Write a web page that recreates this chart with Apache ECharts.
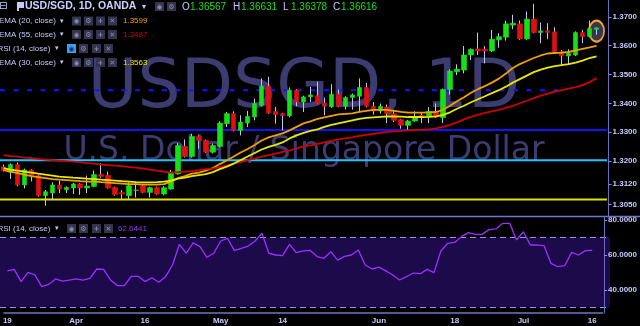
<!DOCTYPE html>
<html><head><meta charset="utf-8">
<script src="https://cdn.jsdelivr.net/npm/echarts@6/dist/echarts.min.js"></script>
<style>html,body{margin:0;padding:0;background:#000;overflow:hidden}#c{width:640px;height:326px}</style>
</head><body><div id="c"></div>
<script>
// ---- categories (trading days, plus one empty slot at the right) ----
const dates = ['03-19','03-20','03-21','03-22','03-23','03-26','03-27','03-28','03-29','03-30',
'04-02','04-03','04-04','04-05','04-06','04-09','04-10','04-11','04-12','04-13','04-16','04-17','04-18','04-19','04-20','04-23','04-24','04-25','04-26','04-27','04-30',
'05-01','05-02','05-03','05-04','05-07','05-08','05-09','05-10','05-11','05-14','05-15','05-16','05-17','05-18','05-21','05-22','05-23','05-24','05-25','05-28','05-29','05-30','05-31',
'06-01','06-04','06-05','06-06','06-07','06-08','06-11','06-12','06-13','06-14','06-15','06-18','06-19','06-20','06-21','06-22','06-25','06-26','06-27','06-28','06-29',
'07-02','07-03','07-04','07-05','07-06','07-09','07-10','07-11','07-12','07-13','07-16','07-17'];
const tickDates = ['03-19','04-02','04-16','05-01','05-14','06-01','06-18','07-02','07-16'];
const tickTexts = ['19','Apr','16','May','14','Jun','18','Jul','16'];

// ---- OHLC ----
const opens = [1.31808,1.31610,1.31878,1.31171,1.31693,1.31495,1.30798,1.30892,1.31171,1.31007,
1.31066,1.31206,1.31066,1.31122,1.31540,1.31505,1.31087,1.30913,1.30798,1.30983,
1.31136,1.30913,1.31077,1.30857,1.31031,1.31554,1.32505,1.32157,1.32854,1.32714,
1.32307,1.32505,1.33296,1.33644,1.33063,1.33317,1.33526,1.33934,1.34596,1.33724,
1.33644,1.33568,1.34456,1.34048,1.34223,1.34265,1.34014,1.33881,1.34317,1.33899,
1.34202,1.34247,1.34550,1.33899,1.33735,1.33874,1.33644,1.33435,1.33237,1.33387,
1.33585,1.33526,1.33700,1.33505,1.34481,1.35094,1.35153,1.35676,1.35885,1.35874,
1.35815,1.36198,1.36293,1.36711,1.36756,1.36233,1.36920,1.36453,1.36512,1.36477,
1.35791,1.35641,1.35676,1.36453,1.36313,1.36567];
const closes = [1.31669,1.31878,1.31171,1.31693,1.31495,1.30798,1.30937,1.31171,1.31031,1.31087,
1.31206,1.31066,1.31136,1.31530,1.31470,1.31066,1.30833,1.30857,1.31146,1.30996,
1.30913,1.31077,1.30857,1.31077,1.31575,1.32540,1.32157,1.32854,1.32714,1.32307,
1.32540,1.33317,1.33644,1.33063,1.33352,1.33550,1.33993,1.34596,1.33665,1.33610,
1.33575,1.34456,1.34048,1.34223,1.34293,1.33993,1.33899,1.34317,1.33899,1.34202,
1.34293,1.34550,1.33899,1.33735,1.33899,1.33644,1.33411,1.33237,1.33387,1.33526,
1.33505,1.33724,1.33526,1.34481,1.35118,1.35188,1.35676,1.35874,1.35815,1.35815,
1.36223,1.36313,1.36756,1.36780,1.36233,1.36920,1.36453,1.36512,1.36453,1.35791,
1.35641,1.35735,1.36453,1.36313,1.36592,1.36616];
const lows = [1.31634,1.31380,1.31129,1.31052,1.31296,1.30763,1.30449,1.30648,1.30892,1.30892,
1.30857,1.30833,1.30892,1.31094,1.31425,1.31042,1.30798,1.30683,1.30683,1.30738,
1.30885,1.30738,1.30833,1.30815,1.31007,1.31530,1.32122,1.32122,1.32425,1.32279,
1.32261,1.32470,1.33178,1.33028,1.32888,1.33178,1.33411,1.33899,1.33637,1.33296,
1.33063,1.33516,1.33899,1.33700,1.34048,1.33968,1.33585,1.33846,1.33864,1.33784,
1.33784,1.33690,1.33864,1.33610,1.33644,1.33317,1.33352,1.33122,1.33063,1.33359,
1.33317,1.33317,1.33498,1.33317,1.34306,1.34979,1.35038,1.35501,1.35676,1.35386,
1.35780,1.35930,1.36174,1.36571,1.36198,1.36198,1.36425,1.36083,1.36223,1.35763,
1.35292,1.35327,1.35641,1.36083,1.36286,1.36378];
const highs = [1.31878,1.31923,1.31948,1.31739,1.31721,1.31530,1.30996,1.31261,1.31320,1.31122,
1.31240,1.31233,1.31495,1.31669,1.31923,1.31634,1.31111,1.30996,1.31261,1.31226,
1.31181,1.31111,1.31111,1.31129,1.31693,1.32620,1.32749,1.32948,1.32888,1.32749,
1.32610,1.33376,1.33700,1.33724,1.33585,1.33735,1.34167,1.34864,1.34920,1.33874,
1.33672,1.34550,1.34491,1.34265,1.34571,1.34746,1.34195,1.34665,1.34481,1.34247,
1.34341,1.34864,1.34711,1.34048,1.33993,1.33958,1.33759,1.33463,1.33428,1.33724,
1.33665,1.33874,1.33993,1.34509,1.35178,1.35352,1.35989,1.35902,1.36453,1.35989,
1.36547,1.36432,1.36861,1.37070,1.36871,1.37185,1.37453,1.36801,1.36780,1.36641,
1.35850,1.35874,1.36495,1.36547,1.36871,1.36631];

// ---- indicators ----
const ema20 = [1.31686,1.31634,1.31582,1.31530,1.31477,1.31443,1.31408,1.31373,1.31355,1.31338,
1.31321,1.31303,1.31286,1.31286,1.31268,1.31251,1.31233,1.31216,1.31199,1.31199,
1.31181,1.31181,1.31181,1.31199,1.31286,1.31408,1.31477,1.31564,1.31599,1.31669,
1.31756,1.31895,1.32017,1.32157,1.32296,1.32418,1.32558,1.32714,1.32819,1.32888,
1.32958,1.33063,1.33185,1.33307,1.33376,1.33463,1.33516,1.33568,1.33620,1.33638,
1.33655,1.33707,1.33742,1.33777,1.33777,1.33777,1.33742,1.33707,1.33679,1.33679,
1.33679,1.33690,1.33700,1.33777,1.33916,1.34073,1.34213,1.34369,1.34491,1.34596,
1.34718,1.34857,1.35031,1.35223,1.35362,1.35467,1.35571,1.35659,1.35728,1.35746,
1.35756,1.35780,1.35833,1.35885,1.35937,1.35990];
const ema55 = [1.32209,1.32174,1.32157,1.32122,1.32105,1.32077,1.32052,1.32035,1.32017,1.32000,
1.31983,1.31965,1.31930,1.31913,1.31878,1.31861,1.31843,1.31826,1.31791,1.31774,
1.31739,1.31704,1.31669,1.31634,1.31599,1.31617,1.31634,1.31652,1.31686,1.31721,
1.31739,1.31791,1.31843,1.31913,1.31965,1.32035,1.32087,1.32157,1.32209,1.32261,
1.32314,1.32366,1.32436,1.32505,1.32540,1.32592,1.32645,1.32697,1.32749,1.32784,
1.32819,1.32871,1.32906,1.32941,1.32976,1.33010,1.33028,1.33045,1.33063,1.33080,
1.33087,1.33098,1.33132,1.33185,1.33254,1.33341,1.33446,1.33533,1.33603,1.33672,
1.33725,1.33777,1.33847,1.33916,1.34004,1.34091,1.34178,1.34265,1.34334,1.34404,
1.34456,1.34509,1.34561,1.34631,1.34735,1.34875];
const ema30 = [1.31756,1.31704,1.31669,1.31634,1.31599,1.31564,1.31530,1.31495,1.31460,1.31443,
1.31425,1.31408,1.31390,1.31373,1.31355,1.31338,1.31321,1.31303,1.31286,1.31268,
1.31261,1.31261,1.31268,1.31286,1.31321,1.31390,1.31425,1.31477,1.31512,1.31547,
1.31617,1.31721,1.31808,1.31913,1.32035,1.32157,1.32279,1.32401,1.32488,1.32558,
1.32645,1.32784,1.32888,1.32976,1.33045,1.33098,1.33185,1.33254,1.33307,1.33359,
1.33411,1.33463,1.33498,1.33516,1.33533,1.33544,1.33551,1.33540,1.33526,1.33526,
1.33526,1.33533,1.33551,1.33603,1.33690,1.33812,1.33916,1.34038,1.34143,1.34247,
1.34352,1.34456,1.34578,1.34718,1.34840,1.34962,1.35084,1.35171,1.35240,1.35293,
1.35328,1.35362,1.35415,1.35484,1.35571,1.35631];
const rsi14 = [50.9,51.8,44.8,50.1,48.6,41.9,43.2,46.3,45.1,45.7,
46.3,45.7,46.7,52.0,51.8,45.7,42.5,42.5,47.8,47.8,
44.8,47.0,44.4,47.6,54.3,66.1,61.0,66.9,64.8,58.7,
61.0,68.0,69.5,62.5,63.8,65.1,68.0,72.4,61.0,60.0,
59.6,66.1,61.3,62.3,62.7,59.1,58.1,61.9,57.1,59.2,
60.0,62.9,54.3,52.0,53.1,50.9,48.6,45.7,47.6,49.7,
49.3,51.8,49.9,62.3,66.7,67.2,70.5,72.8,71.8,71.8,
74.5,74.9,78.1,78.1,68.6,73.3,65.7,65.7,65.3,55.2,
53.3,53.9,61.5,60.0,62.5,62.6441];

// ---- drawn levels & axis ticks ----
const dashedLevel = [1.34456];
const dashedLevelEnd = ['07-09'];
const solidLevels = [1.33073, 1.32024, 1.30669];
const solidLevelColors = ['#1212ff', '#22c4ff', '#e2e200'];
const priceTicks = [1.305, 1.312, 1.32, 1.33, 1.34, 1.35, 1.36, 1.37];
const rsiTicks = [40, 60, 80];
const rsiBands = [30, 70];

const FS = 'Liberation Sans';
const TXT = '#c8c8ff';
const GREEN = '#16e016', RED = '#e01010', WICK = '#c4c4f4';

const tickMap = {};
tickDates.forEach((d, i) => tickMap[d] = tickTexts[i]);

const wickData = opens.map((o, i) => [o, closes[i], lows[i], highs[i]]);
const bodyData = opens.map((o, i) => [o, closes[i], Math.min(o, closes[i]), Math.max(o, closes[i])]);
const last = opens.length - 1;

function txt(x, y, s, color, size, weight, family, align) {
  return {type: 'text', x: x, y: y, z: 100, silent: true,
    style: {text: s, fill: color, font: (weight || 'normal') + ' ' + size + 'px "' + (family || FS) + '"',
      textAlign: align || 'left', align: align || 'left', textVerticalAlign: 'middle', verticalAlign: 'middle'}};
}
function box(x, y, glyph, hi) {
  return [
    {type: 'rect', z: 100, silent: true, shape: {x: x, y: y, width: 9, height: 9}, style: {fill: hi ? '#3aa0f0' : '#34344e'}},
    txt(x + 4.5, y + 4.7, glyph, hi ? '#16306e' : '#8a8aae', 7, 'bold', 'DejaVu Sans', 'center')
  ];
}
const g = [];
// watermark
g.push({type: 'text', x: 304, y: 89, z: -1, silent: true, style: {text: 'USDSGD, 1D', font: '68px "DejaVu Sans"', fill: '#3c3c70', textAlign: 'center', align: 'center', textVerticalAlign: 'middle', verticalAlign: 'middle'}});
g.push({type: 'text', x: 304, y: 151, z: -1, silent: true, style: {text: 'U.S. Dollar / Singapore Dollar', font: '33px "DejaVu Sans"', fill: '#3c3c70', textAlign: 'center', align: 'center', textVerticalAlign: 'middle', verticalAlign: 'middle'}});
// pane separator
g.push({type: 'line', z: 50, silent: true, shape: {x1: 0, y1: 216.5, x2: 640, y2: 216.5}, style: {stroke: '#7474c8', lineWidth: 1.5}});
// header line
g.push(txt(-1, 6.5, '⊟', TXT, 10, 'normal', 'DejaVu Sans'));
g.push({type: 'rect', z: 100, silent: true, shape: {x: 17, y: 2, width: 2, height: 9}, style: {fill: TXT}});
g.push({type: 'polygon', z: 100, silent: true, shape: {points: [[19, 2], [24, 2], [24, 8], [19, 8]]}, style: {fill: TXT}});
g.push(txt(25, 6.5, 'USD/SGD, 1D, OANDA', '#d0d0ff', 10.5, 'bold'));
g.push(txt(142, 6.5, '▾', TXT, 8, 'normal', 'DejaVu Sans'));
g.push(...box(155, 2, '◉'), ...box(167, 2, '⚙'));
const ohlcLabels = ['O', 'H', 'L', 'C'];
const ohlcVals = [opens[last], highs[last], lows[last], closes[last]];
const ohlcX = [182, 233, 283, 333];
ohlcLabels.forEach((k, i) => {
  g.push(txt(ohlcX[i], 7, k, TXT, 10));
  g.push(txt(ohlcX[i] + 8, 7, ohlcVals[i].toFixed(5), GREEN, 10));
});
// indicator legends
const legendRows = [
  {name: 'EMA (20, close)', y: 21, val: ema20[last].toFixed(4), col: '#f0a000', x0: 72, tx: -1, ax: 60},
  {name: 'EMA (55, close)', y: 34.5, val: ema55[last].toFixed(4), col: '#d00000', x0: 72, tx: -1, ax: 60},
  {name: 'RSI (14, close)', y: 48.5, val: null, col: null, x0: 67, tx: -2.5, ax: 55, hi: true},
  {name: 'EMA (30, close)', y: 62.5, val: ema30[last].toFixed(4), col: '#e8e800', x0: 72, tx: -1, ax: 60}
];
legendRows.forEach(r => {
  g.push(txt(r.tx, r.y, r.name, TXT, 8));
  g.push(txt(r.ax, r.y, '▾', TXT, 7, 'normal', 'DejaVu Sans'));
  const step = r.hi ? [0, 12, 25, 37] : [0, 12, 24, 36];
  g.push(...box(r.x0 + step[0], r.y - 4.5, '◉', r.hi), ...box(r.x0 + step[1], r.y - 4.5, '⚙'),
         ...box(r.x0 + step[2], r.y - 4.5, '+'), ...box(r.x0 + step[3], r.y - 4.5, '✕'));
  if (r.val) g.push(txt(123, r.y, r.val, r.col, 8));
});
// RSI pane legend
g.push(txt(-2.5, 228.5, 'RSI (14, close)', TXT, 8));
g.push(txt(55, 228.5, '▾', TXT, 7, 'normal', 'DejaVu Sans'));
g.push(...box(67, 224, '◉'), ...box(79, 224, '⚙'), ...box(92, 224, '+'), ...box(104, 224, '✕'));
g.push(txt(118, 228.5, rsi14[last].toFixed(4), '#9b30ff', 8));

const option = {
  backgroundColor: '#000000',
  animation: false,
  graphic: g,
  grid: [
    {left: -6.5, right: 30.5, top: 0, height: 216.5},
    {left: -6.5, right: 30.5, top: 217, height: 96}
  ],
  xAxis: [
    {type: 'category', gridIndex: 0, data: dates, boundaryGap: true,
     axisLine: {show: false}, axisTick: {show: false}, axisLabel: {show: false}, splitLine: {show: false}},
    {type: 'category', gridIndex: 1, data: dates, boundaryGap: true,
     axisLine: {show: true, lineStyle: {color: '#7474c8', width: 1.5}}, axisTick: {show: false},
     axisLabel: {show: true, interval: (i, v) => tickMap[v] !== undefined, formatter: v => tickMap[v] || '',
       color: TXT, fontSize: 8, fontWeight: 'bold', fontFamily: FS, margin: 4},
     splitLine: {show: false}}
  ],
  yAxis: [
    {type: 'value', gridIndex: 0, position: 'right', offset: 1.5, min: 1.30078, max: 1.375823, z: 5,
     axisLine: {show: true, lineStyle: {color: '#6c6cc0'}},
     axisTick: {show: true, length: 3, customValues: priceTicks, lineStyle: {color: '#8c8ce0'}},
     axisLabel: {show: true, customValues: priceTicks, formatter: v => Number(v).toFixed(4),
       color: TXT, fontSize: 8, fontWeight: 'bold', fontFamily: FS, margin: 4},
     splitLine: {show: false}},
    {type: 'value', gridIndex: 1, position: 'right', offset: 1.5, min: 26.857, max: 81.714, z: 5,
     axisLine: {show: true, lineStyle: {color: '#6c6cc0'}},
     axisTick: {show: true, length: 3, customValues: rsiTicks, lineStyle: {color: '#8c8ce0'}},
     axisLabel: {show: true, customValues: rsiTicks, formatter: v => Number(v).toFixed(4),
       color: TXT, fontSize: 8, fontWeight: 'bold', fontFamily: FS, margin: 4},
     splitLine: {show: false}}
  ],
  series: [
    {name: 'wick', type: 'candlestick', xAxisIndex: 0, yAxisIndex: 0, data: wickData, barWidth: 1, silent: true,
     itemStyle: {color: WICK, color0: WICK, borderColor: WICK, borderColor0: WICK, borderWidth: 1}},
    {name: 'body', type: 'candlestick', xAxisIndex: 0, yAxisIndex: 0, data: bodyData, barWidth: 5, silent: true,
     itemStyle: {color: GREEN, color0: RED, borderColor: GREEN, borderColor0: RED, borderWidth: 0.6},
     markPoint: {silent: true, z: 1, symbol: 'circle', symbolSize: [15, 21], label: {show: false},
       itemStyle: {color: 'rgba(72,72,112,0.75)', borderColor: '#f2a229', borderWidth: 2},
       data: [{coord: [dates[last], (lows[last] + highs[last]) / 2]}]},
     markLine: {silent: true, symbol: ['none', 'none'], lineStyle: {opacity: 0},
       label: {show: true, position: 'end', distance: 3, formatter: closes[last].toFixed(5),
         backgroundColor: '#19d919', color: '#a4ffa4', fontSize: 8, fontFamily: FS, padding: [2, 2, 2, 2]},
       data: [{yAxis: closes[last]}]}},
    {name: 'EMA20', type: 'line', xAxisIndex: 0, yAxisIndex: 0, data: ema20, showSymbol: false, silent: true,
     lineStyle: {color: '#f0a000', width: 1.8}},
    {name: 'EMA55', type: 'line', xAxisIndex: 0, yAxisIndex: 0, data: ema55, showSymbol: false, silent: true,
     lineStyle: {color: '#d00000', width: 1.8}},
    {name: 'EMA30', type: 'line', xAxisIndex: 0, yAxisIndex: 0, data: ema30, showSymbol: false, silent: true,
     lineStyle: {color: '#e8e800', width: 1.8}},
    {name: 'RSI', type: 'line', xAxisIndex: 1, yAxisIndex: 1, data: rsi14, showSymbol: false, silent: true,
     lineStyle: {color: '#9b30ff', width: 1.3}}
  ]
};
const chart = echarts.init(document.getElementById('c'), null, {renderer: 'canvas'});
chart.setOption(option);

// horizontal levels and RSI band, placed through the axes' own scales
const extra = [];
const yOf = (axis, v) => chart.convertToPixel({yAxisIndex: axis}, v);
const xEndDash = chart.convertToPixel({xAxisIndex: 0}, dashedLevelEnd[0]);
const yb70 = yOf(1, rsiBands[1]), yb30 = yOf(1, rsiBands[0]);
extra.push({type: 'rect', z: -0.5, silent: true, shape: {x: 0, y: yb70, width: 610, height: yb30 - yb70}, style: {fill: '#1c0a4b'}});
rsiBands.forEach(v => {
  const y = Math.round(yOf(1, v)) + 0.5;
  extra.push({type: 'line', z: 1, silent: true, shape: {x1: 0, y1: y, x2: 610, y2: y}, style: {stroke: '#9a8ee8', lineWidth: 1, lineDash: [6, 4]}});
});
dashedLevel.forEach(v => {
  const y = yOf(0, v);
  extra.push({type: 'line', z: 1, silent: true, shape: {x1: 0, y1: y, x2: xEndDash, y2: y}, style: {stroke: '#1414ff', lineWidth: 2, lineDash: [5, 8.5]}});
});
solidLevels.forEach((v, i) => {
  const y = yOf(0, v);
  extra.push({type: 'line', z: 1, silent: true, shape: {x1: 0, y1: y, x2: 607, y2: y}, style: {stroke: solidLevelColors[i], lineWidth: 2}});
});
chart.setOption({graphic: g.concat(extra)});
</script>
</body></html>
